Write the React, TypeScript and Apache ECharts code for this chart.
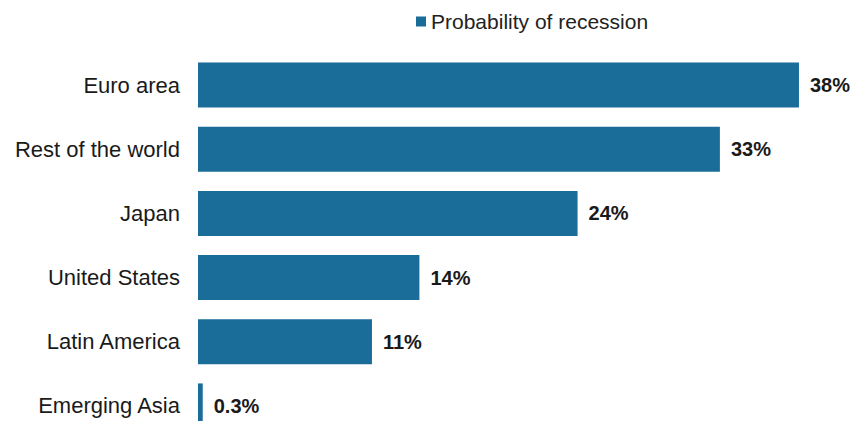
import React, { useEffect, useRef } from "react";
import * as echarts from "echarts";

const categories = ["Euro area", "Rest of the world", "Japan", "United States", "Latin America", "Emerging Asia"];
const values = [38, 33, 24, 14, 11, 0.3];
const seriesName = "Probability of recession";

export default function App() {
  const ref = useRef<HTMLDivElement>(null);
  useEffect(() => {
    document.body.style.margin = "0";
    document.body.style.overflow = "hidden";
    const chart = echarts.init(ref.current!, null, { renderer: "svg" });
    chart.setOption({
      animation: false,
      backgroundColor: "#ffffff",
      textStyle: { fontFamily: "Liberation Sans, Arial, sans-serif" },
      legend: {
        data: [seriesName],
        left: 411,
        top: 6,
        icon: "rect",
        itemWidth: 10,
        itemHeight: 10,
        itemGap: 4,
        textStyle: { fontSize: 21, color: "#222222", fontFamily: "Liberation Sans, Arial, sans-serif" },
      },
      grid: { left: 198, top: 53, width: 632.6, height: 385 },
      xAxis: { type: "value", min: 0, max: 40, show: false },
      yAxis: {
        type: "category",
        data: categories,
        inverse: true,
        axisLine: { show: false },
        axisTick: { show: false },
        axisLabel: { fontSize: 22, color: "#1a1a1a", margin: 18, fontFamily: "Liberation Sans, Arial, sans-serif" },
      },
      series: [
        {
          name: seriesName,
          type: "bar",
          data: values,
          barWidth: 45,
          itemStyle: { color: "#1a6d99" },
          label: {
            show: true,
            position: "right",
            distance: 11,
            fontSize: 20,
            fontWeight: "bold",
            color: "#1a1a1a",
            formatter: (p: any) => p.value + "%",
          },
        },
      ],
    });
    return () => chart.dispose();
  }, []);
  return <div ref={ref} style={{ width: 855, height: 450 }} />;
}
